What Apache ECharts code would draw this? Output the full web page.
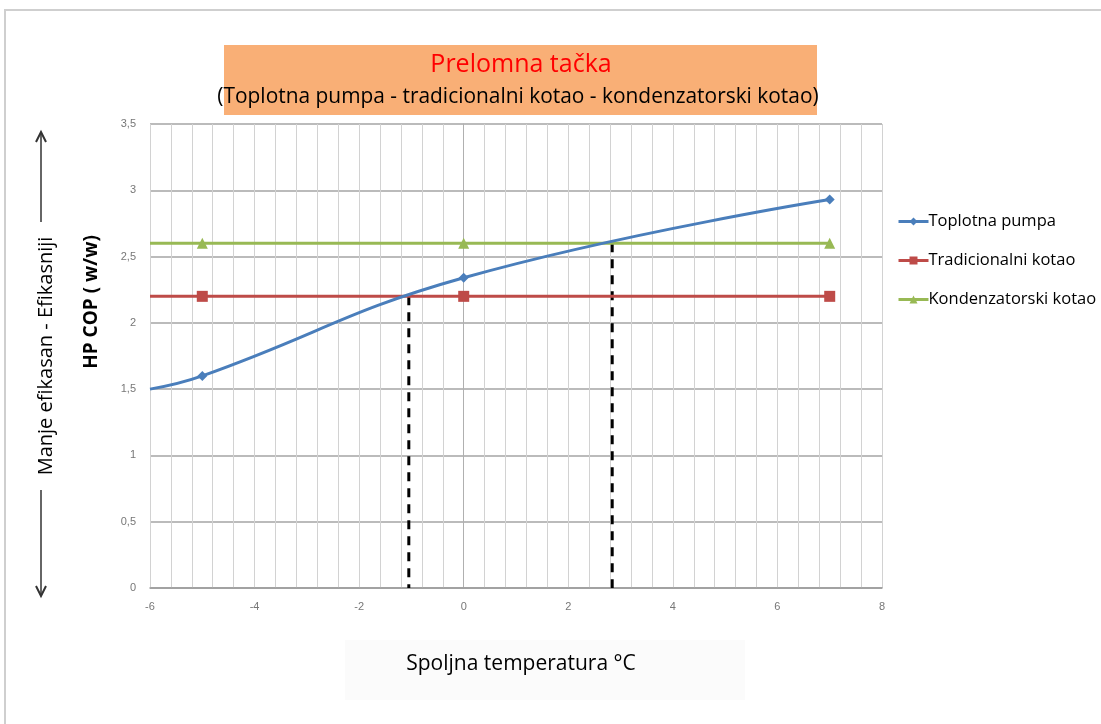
<!DOCTYPE html>
<html>
<head>
<meta charset="utf-8">
<script src="https://cdn.jsdelivr.net/npm/echarts@6/dist/echarts.min.js"></script>
<style>
html,body{margin:0;padding:0;background:#fff;}
#chart{width:1101px;height:724px;}
</style>
</head>
<body>
<div id="chart"></div>
<script>
// ---- data ----
const seriesNames = ['Toplotna pumpa', 'Tradicionalni kotao', 'Kondenzatorski kotao'];
const tempHP = [-6, -5, 0, 7];
const copHP = [1.5, 1.6, 2.34, 2.93];
const tempBoiler = [-6, -5, 0, 7];
const copTradicionalni = [2.2, 2.2, 2.2, 2.2];
const copKondenzatorski = [2.6, 2.6, 2.6, 2.6];
const breakPointsX = [-1.05, 2.84];
const breakPointsY = [2.2, 2.6];
const xTicks = [-6, -4, -2, 0, 2, 4, 6, 8];
const yTicks = [0, 0.5, 1, 1.5, 2, 2.5, 3, 3.5];
const titleMain = 'Prelomna tačka';
const titleSub = '(Toplotna pumpa - tradicionalni kotao - kondenzatorski kotao)';
const yNameTop = 'Manje efikasan - Efikasniji';
const yNameBold = 'HP COP ( w/w)';
const xName = 'Spoljna temperatura °C';

const colors = ['#4A7EBB', '#BE4B48', '#98B954'];

function pts(xs, ys) {
  return xs.map((x, i) => i === 0 ? { value: [x, ys[i]], symbol: 'none' } : [x, ys[i]]);
}

const chart = echarts.init(document.getElementById('chart'));
const dashSeries = breakPointsX.map((x, i) => ({
  type: 'line',
  name: 'break' + i,
  data: [[x, breakPointsY[i]], [x, 0]],
  symbol: 'none',
  lineStyle: { color: '#000', width: 3, type: [9, 7] },
  z: 1,
  silent: true
}));

const option = {
  animation: false,
  backgroundColor: '#fff',
  color: colors,
  grid: { left: 150, top: 124, width: 732, height: 464, containLabel: false },
  legend: {
    data: seriesNames,
    orient: 'vertical',
    left: 892,
    top: 208,
    itemWidth: 30,
    itemHeight: 10,
    itemGap: 22,
    lineStyle: { width: 3 },
    textStyle: { fontFamily: 'Open Sans', fontSize: 16.5, color: '#000', padding: [0, 0, 0, -5] }
  },
  xAxis: {
    type: 'value',
    min: xTicks[0],
    max: xTicks[xTicks.length - 1],
    interval: 2,
    axisLine: { onZero: false, lineStyle: { color: '#9a9a9a', width: 1.5 } },
    axisTick: { show: false },
    axisLabel: { color: '#777', fontSize: 11, fontFamily: 'Liberation Sans', margin: 13 },
    splitLine: { show: true, lineStyle: { color: '#d2d2d2', width: 1 } },
    minorTick: { show: false, splitNumber: 5 },
    minorSplitLine: { show: true, lineStyle: { color: '#d2d2d2', width: 1 } }
  },
  yAxis: {
    type: 'value',
    min: yTicks[0],
    max: yTicks[yTicks.length - 1],
    interval: 0.5,
    axisLine: { show: true, lineStyle: { color: '#b0b0b0', width: 1 } },
    axisTick: { show: false },
    axisLabel: {
      color: '#777', fontSize: 11, fontFamily: 'Liberation Sans', margin: 14,
      formatter: v => String(v).replace('.', ',')
    },
    splitLine: { show: true, lineStyle: { color: '#a5a5a5', width: 1.5 } }
  },
  series: [
    {
      type: 'line', name: seriesNames[0],
      data: pts(tempHP, copHP),
      smooth: 0.45,
      symbol: 'diamond', symbolSize: 10,
      lineStyle: { width: 3, color: colors[0] },
      itemStyle: { color: colors[0] },
      z: 4,
      markLine: {
        silent: true, symbol: 'none', label: { show: false },
        lineStyle: { color: '#8a8a8a', width: 1, type: 'solid' },
        data: [{ xAxis: 0 }],
        z: 0
      }
    },
    {
      type: 'line', name: seriesNames[1],
      data: pts(tempBoiler, copTradicionalni),
      symbol: 'rect', symbolSize: 11,
      lineStyle: { width: 3, color: colors[1] },
      itemStyle: { color: colors[1] },
      z: 3
    },
    {
      type: 'line', name: seriesNames[2],
      data: pts(tempBoiler, copKondenzatorski),
      symbol: 'triangle', symbolSize: 11,
      lineStyle: { width: 3, color: colors[2] },
      itemStyle: { color: colors[2] },
      z: 3
    }
  ].concat(dashSeries),
  graphic: [
    { type: 'rect', shape: { x: 5, y: 10, width: 1100, height: 720 }, style: { fill: 'none', stroke: '#cfcfcf', lineWidth: 2 }, z: -10 },
    { type: 'rect', shape: { x: 224, y: 45, width: 593, height: 70 }, style: { fill: '#F9AF76' } },
    { type: 'text', x: 521, y: 65, style: { text: titleMain, fill: '#FF0000', font: '25px "Open Sans"', textAlign: 'center', textVerticalAlign: 'middle' } },
    { type: 'text', x: 518, y: 97, scaleX: 0.95, style: { text: titleSub, fill: '#000', font: '22px "Open Sans"', textAlign: 'center', textVerticalAlign: 'middle' } },
    { type: 'rect', shape: { x: 345, y: 640, width: 400, height: 60 }, style: { fill: '#fbfbfb' }, z: -5 },
    { type: 'text', x: 521, y: 664, style: { text: xName, fill: '#000', font: '21px "Open Sans"', textAlign: 'center', textVerticalAlign: 'middle' } },
    { type: 'text', x: 46, y: 356, rotation: Math.PI / 2, style: { text: yNameTop, fill: '#000', font: '20px "Open Sans"', textAlign: 'center', textVerticalAlign: 'middle' } },
    { type: 'text', x: 92, y: 302, rotation: Math.PI / 2, style: { text: yNameBold, fill: '#000', font: 'bold 19px "Open Sans"', textAlign: 'center', textVerticalAlign: 'middle' } },
    { type: 'line', shape: { x1: 41, y1: 222, x2: 41, y2: 133 }, style: { stroke: '#333', lineWidth: 1.5 } },
    { type: 'polyline', shape: { points: [[36, 142], [41, 132], [46, 142]] }, style: { stroke: '#333', lineWidth: 2, fill: 'none' } },
    { type: 'line', shape: { x1: 41, y1: 490, x2: 41, y2: 595 }, style: { stroke: '#333', lineWidth: 1.5 } },
    { type: 'polyline', shape: { points: [[36, 586], [41, 596], [46, 586]] }, style: { stroke: '#333', lineWidth: 2, fill: 'none' } }
  ]
};
chart.setOption(option);
</script>
</body>
</html>
